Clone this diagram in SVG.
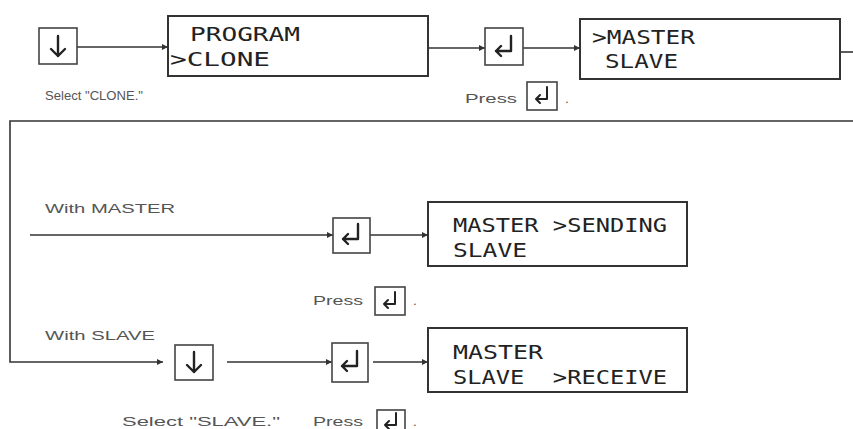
<svg xmlns="http://www.w3.org/2000/svg" width="853" height="429" viewBox="0 0 853 429">
  <style>
    .lcd { fill: #fff; stroke: #333; stroke-width: 2; }
    .key { fill: #fff; stroke: #444; stroke-width: 1.6; }
    .ico { fill: none; stroke: #222; stroke-width: 2.4; stroke-linecap: round; stroke-linejoin: round; }
    .icos { fill: none; stroke: #222; stroke-width: 2; stroke-linecap: round; stroke-linejoin: round; }
    .conn { fill: none; stroke: #333; stroke-width: 1.6; }
    .lt { font-family: "DejaVu Sans Mono", "Liberation Mono", monospace; font-size: 20px; fill: #222; }
    .lab { font-family: "Liberation Sans", Arial, sans-serif; font-size: 13.5px; fill: #555; }
  </style>
  <defs>
    <marker id="ah" viewBox="0 0 10 10" refX="10" refY="5" markerWidth="8" markerHeight="6" orient="auto" markerUnits="userSpaceOnUse">
      <path d="M0,0 L10,5 L0,10 z" fill="#333"/>
    </marker>
    <path id="down" class="ico" d="M0,-10 V10 M-7,3 L0,10 L7,3"/>
    <path id="enter" class="ico" d="M7,-10 V5 H-8 M-3,0 L-8,5 L-3,10"/>
    <path id="enterS" class="icos" d="M5,-8 V4 H-6 M-2,0 L-6,4 L-2,8"/>
  </defs>

  <rect width="853" height="429" fill="#fff"/>

  <g id="connectors">
    <line class="conn" x1="77" y1="47" x2="168" y2="47" marker-end="url(#ah)"/>
    <line class="conn" x1="428" y1="48" x2="485" y2="48" marker-end="url(#ah)"/>
    <line class="conn" x1="523" y1="48" x2="580" y2="48" marker-end="url(#ah)"/>
    <line class="conn" x1="840" y1="52" x2="853" y2="52"/>
    <path class="conn" d="M853,121 H10 V362 H163" marker-end="url(#ah)"/>
    <line class="conn" x1="30" y1="235" x2="333" y2="235" marker-end="url(#ah)"/>
    <line class="conn" x1="370" y1="235" x2="428" y2="235" marker-end="url(#ah)"/>
    <line class="conn" x1="227" y1="362" x2="332" y2="362" marker-end="url(#ah)"/>
    <line class="conn" x1="373" y1="362" x2="428" y2="362" marker-end="url(#ah)"/>
  </g>

  <g id="key-down-1">
    <rect class="key" x="39" y="28" width="38" height="36"/>
    <use href="#down" x="58" y="46"/>
  </g>
  <g id="lcd-program-clone">
    <rect class="lcd" x="168" y="16" width="260" height="60"/>
    <text class="lt" x="190" y="41" textLength="110" lengthAdjust="spacingAndGlyphs">PROGRAM</text>
    <text class="lt" x="170" y="66" textLength="100" lengthAdjust="spacingAndGlyphs">&gt;CLONE</text>
  </g>
  <text class="lab" x="45" y="100" textLength="98" lengthAdjust="spacingAndGlyphs">Select "CLONE."</text>

  <g id="key-enter-1">
    <rect class="key" x="485" y="28" width="38" height="37"/>
    <use href="#enter" x="504" y="46"/>
  </g>
  <g id="lcd-master-slave">
    <rect class="lcd" x="580" y="19" width="260" height="60"/>
    <text class="lt" x="592" y="44" textLength="103" lengthAdjust="spacingAndGlyphs">&gt;MASTER</text>
    <text class="lt" x="605" y="68" textLength="73" lengthAdjust="spacingAndGlyphs">SLAVE</text>
  </g>
  <g id="press-1">
    <text class="lab" x="465" y="103" textLength="52" lengthAdjust="spacingAndGlyphs">Press</text>
    <rect class="key" x="527" y="82" width="30" height="28"/>
    <use href="#enterS" x="542" y="95"/>
    <text class="lab" x="565" y="103">.</text>
  </g>

  <text class="lab" x="45" y="213" textLength="130" lengthAdjust="spacingAndGlyphs">With MASTER</text>
  <g id="key-enter-2">
    <rect class="key" x="333" y="218" width="37" height="35"/>
    <use href="#enter" x="351" y="234"/>
  </g>
  <g id="lcd-sending">
    <rect class="lcd" x="428" y="202" width="259" height="64"/>
    <text class="lt" x="453" y="232" textLength="214" lengthAdjust="spacingAndGlyphs">MASTER &gt;SENDING</text>
    <text class="lt" x="453" y="257" textLength="74" lengthAdjust="spacingAndGlyphs">SLAVE</text>
  </g>
  <g id="press-2">
    <text class="lab" x="313" y="305" textLength="50" lengthAdjust="spacingAndGlyphs">Press</text>
    <rect class="key" x="375" y="287" width="30" height="28"/>
    <use href="#enterS" x="390" y="300"/>
    <text class="lab" x="413" y="305">.</text>
  </g>

  <text class="lab" x="45" y="340" textLength="110" lengthAdjust="spacingAndGlyphs">With SLAVE</text>
  <g id="key-down-2">
    <rect class="key" x="175" y="345" width="38" height="35"/>
    <use href="#down" x="194" y="362"/>
  </g>
  <g id="key-enter-3">
    <rect class="key" x="332" y="343" width="36" height="39"/>
    <use href="#enter" x="350" y="361"/>
  </g>
  <g id="lcd-receive">
    <rect class="lcd" x="428" y="328" width="259" height="64"/>
    <text class="lt" x="453" y="359" textLength="90" lengthAdjust="spacingAndGlyphs">MASTER</text>
    <text class="lt" x="453" y="384" textLength="214" lengthAdjust="spacingAndGlyphs" xml:space="preserve">SLAVE  &gt;RECEIVE</text>
  </g>
  <text class="lab" x="122" y="426" textLength="158" lengthAdjust="spacingAndGlyphs">Select "SLAVE."</text>
  <g id="press-3">
    <text class="lab" x="313" y="426" textLength="50" lengthAdjust="spacingAndGlyphs">Press</text>
    <rect class="key" x="377" y="410" width="28" height="24"/>
    <use href="#enterS" x="391" y="421"/>
    <text class="lab" x="413" y="426">.</text>
  </g>
</svg>
